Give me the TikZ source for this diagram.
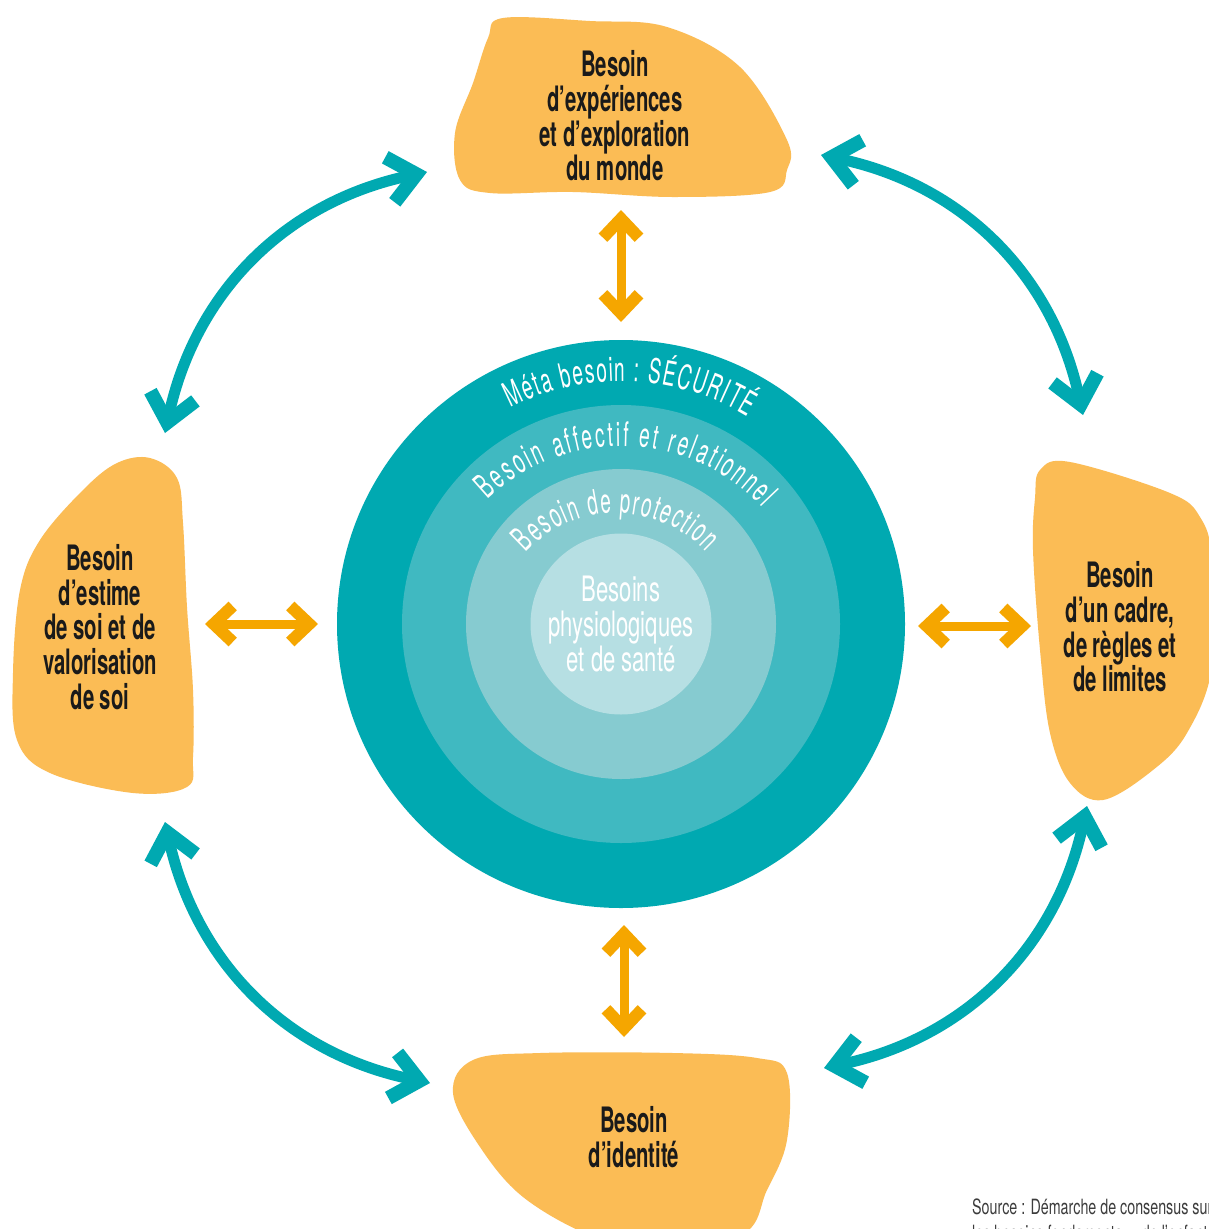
\documentclass[tikz,border=0pt]{standalone}
\usepackage{fontspec}
\setmainfont{TeX Gyre Heros}
\newfontfamily\blobff{TeX Gyre Heros}[FakeStretch=0.58]
\newfontfamily\ctrff{TeX Gyre Heros}[FakeStretch=0.63]
\newfontfamily\ringff{TeX Gyre Heros}[FakeStretch=0.56]
\newfontfamily\srcff{TeX Gyre Heros}[FakeStretch=0.68]
\usetikzlibrary{arrows.meta,decorations.text}
\definecolor{tealA}{HTML}{00A9B1}
\definecolor{tealB}{HTML}{40B9C1}
\definecolor{tealC}{HTML}{86CBD0}
\definecolor{tealD}{HTML}{B6DFE3}
\definecolor{blobc}{HTML}{FBBC55}
\definecolor{orc}{HTML}{F5A600}
\definecolor{txtc}{HTML}{1A1A1A}
\definecolor{srcc}{HTML}{3C3C3C}
\newcommand\ringfont{\ringff\fontsize{34pt}{34pt}\selectfont}
\tikzset{
  blob/.style={fill=blobc, draw=none},
  blobtxt/.style={align=center, text=txtc, inner sep=0pt,
    font=\blobff\bfseries\fontsize{35pt}{34.7pt}\selectfont},
  ctrtxt/.style={align=center, text=white, inner sep=0pt,
    font=\ctrff\fontsize{35pt}{35pt}\selectfont},
  tealarrow/.style={draw=tealA, line width=11pt,
    >={Straight Barb[length=27pt,width=46pt,line width=14pt]}, <->},
  orarrow/.style={draw=orc, line width=9pt,
    >={Straight Barb[length=19pt,width=36pt,line width=12pt]}, <->},
  ringtext/.style={decorate, decoration={text along path, text={|\ringfont|#1},
    text align={fit to path}, text color=white}}
}
\begin{document}
\begin{tikzpicture}[x=1pt,y=1pt]
\useasboundingbox (0,0) rectangle (1209,-1229);
\clip (0,0) rectangle (1209,-1229);
\fill[white] (0,0) rectangle (1209,-1229);

% central circles
\coordinate (c) at (621,-624);
\fill[tealA] (c) circle[radius=284];
\fill[tealB] (c) circle[radius=219];
\fill[tealC] (c) circle[radius=155];
\fill[tealD] (c) circle[radius=90.5];

\path[ringtext={Méta besoin : SÉCURITÉ}]
  ([shift={(117:243)}]621,-624) arc[start angle=117,end angle=58.6,radius=243];
\path[ringtext={Besoin affectif et relationnel}]
  ([shift={(133.5:194)}]621,-640) arc[start angle=133.5,end angle=43,radius=194];
\path[ringtext={Besoin de protection}]
  ([shift={(137:123)}]616,-636) arc[start angle=137,end angle=43,radius=123];

\node[ctrtxt] (ctr) at (621,-624) {Besoins\\physiologiques\\et de santé};

% blobs
\fill[blob] plot[smooth cycle, tension=0.6] coordinates {
  (503,-18) (590,-21) (667,-27) (740,-67) (787,-140) (787,-170) (770,-192)
  (673,-197) (573,-192) (490,-193) (460,-180) (455,-133) (473,-83) (488,-38)};
\fill[blob] plot[smooth cycle, tension=0.6] coordinates {
  (150,-458) (177,-478) (183,-523) (187,-607) (193,-690) (193,-757) (187,-787)
  (133,-793) (50,-773) (17,-740) (13,-673) (20,-590) (40,-540) (83,-490) (117,-463)};
\fill[blob] plot[smooth cycle, tension=0.6] coordinates {
  (1040,-470) (1070,-462) (1170,-493) (1200,-517) (1212,-560) (1212,-667)
  (1187,-733) (1153,-770) (1103,-800) (1070,-783) (1050,-733) (1040,-650)
  (1033,-550) (1035,-498)};
\fill[blob] plot[smooth cycle, tension=0.6] coordinates {
  (473,-1060) (540,-1053) (673,-1053) (757,-1058) (787,-1073) (787,-1140)
  (767,-1190) (740,-1235) (640,-1240) (590,-1235) (523,-1197) (480,-1147) (453,-1093)};

\node[blobtxt] (top) at (615,-116) {Besoin\\d’expériences\\et d’exploration\\du monde};
\node[blobtxt] (left) at (100,-627) {Besoin\\d’estime\\de soi et de\\valorisation\\de soi};
\node[blobtxt] (right) at (1120,-627) {Besoin\\d’un cadre,\\de règles et\\de limites};
\node[blobtxt] (bottom) at (634,-1137) {Besoin\\d’identité};

% orange arrows
\coordinate (ot1) at (621,-210); \coordinate (ot2) at (621,-322);
\coordinate (ob1) at (624,-925); \coordinate (ob2) at (624,-1037);
\coordinate (ol1) at (205,-624); \coordinate (ol2) at (318,-624);
\coordinate (or1) at (918,-626); \coordinate (or2) at (1031,-626);
\draw[orarrow] (ot1) -- (ot2);
\draw[orarrow] (ob1) -- (ob2);
\draw[orarrow] (ol1) -- (ol2);
\draw[orarrow] (or1) -- (or2);

% teal arrows
\coordinate (tl1) at (427,-172); \coordinate (tl2) at (165,-433);
\coordinate (tr1) at (821,-155); \coordinate (tr2) at (1083,-415);
\coordinate (br1) at (1087,-806); \coordinate (br2) at (824,-1068);
\coordinate (bl1) at (165,-822); \coordinate (bl2) at (430,-1083);
\draw[tealarrow] (tl1) to[bend right=33] (tl2);
\draw[tealarrow] (tr1) to[bend left=33] (tr2);
\draw[tealarrow] (br1) to[bend left=33] (br2);
\draw[tealarrow] (bl1) to[bend right=33] (bl2);

\node[anchor=north west, inner sep=0pt, text=srcc, align=left,
  font=\srcff\fontsize{21pt}{26pt}\selectfont] (src) at (972,-1199)
  {Source : Démarche de consensus sur\\les besoins fondamentaux de l’enfant en protection de l’enfance};
\end{tikzpicture}
\end{document}
